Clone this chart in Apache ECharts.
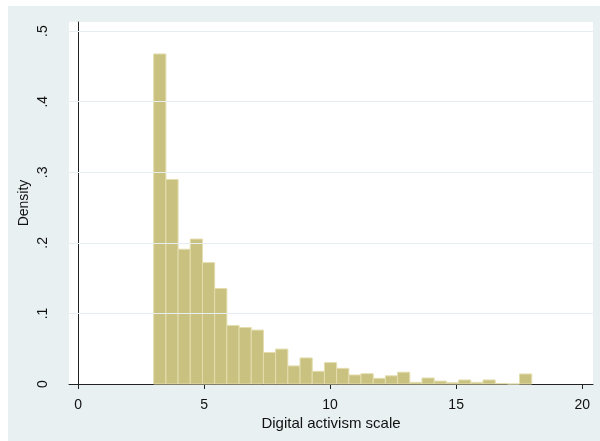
<!DOCTYPE html>
<html>
<head>
<meta charset="utf-8">
<script src="https://cdn.jsdelivr.net/npm/echarts@6/dist/echarts.min.js"></script>
<style>
  html, body { margin: 0; padding: 0; background: #ffffff; }
  #chart { width: 600px; height: 441px; }
</style>
</head>
<body>
<div id="chart"></div>
<script>
// Histogram of the digital activism scale: 31 equal-width bins spanning 3 to 18
const binStart = 3;
const binEnd = 18;
const binCount = 31;
const densities = [
  0.4677, 0.2898, 0.1910, 0.2054, 0.1720, 0.1354, 0.0830, 0.0800,
  0.0764, 0.0447, 0.0495, 0.0256, 0.0369, 0.0180, 0.0303, 0.0222,
  0.0128, 0.0146, 0.0080, 0.0116, 0.0167, 0.0023, 0.0085, 0.0041,
  0.0018, 0.0057, 0.0023, 0.0057, 0.0008, 0.0000, 0.0142
];
const xTicks = [0, 5, 10, 15, 20];
const yTicks = [0, 0.1, 0.2, 0.3, 0.4, 0.5];
const xTitle = 'Digital activism scale';
const yTitle = 'Density';

const binWidth = (binEnd - binStart) / binCount;
const bins = densities.map((d, i) => [binStart + i * binWidth, binStart + (i + 1) * binWidth, d]);

function fmtY(v) {
  if (v === 0) return '0';
  return String(Math.round(v * 10) / 10).replace(/^0/, '');
}

const FONT = 'Liberation Sans, Arial, Helvetica, sans-serif';
const chart = echarts.init(document.getElementById('chart'), null, { renderer: 'canvas' });

chart.setOption({
  animation: false,
  backgroundColor: '#ffffff',
  graphic: [{
    type: 'rect',
    z: -10,
    shape: { x: 8, y: 6, width: 592, height: 435 },
    style: { fill: '#e9f0f2' }
  }],
  grid: {
    left: 69, right: 7, top: 22, bottom: 57,
    show: true, backgroundColor: '#ffffff', borderWidth: 0
  },
  xAxis: {
    type: 'value',
    min: -0.36, max: 20.43,
    name: xTitle,
    nameLocation: 'middle',
    nameGap: 32,
    nameMoveOverlap: false,
    nameTextStyle: { fontFamily: FONT, fontSize: 15, color: '#111' },
    axisLine: { show: true, onZero: false, lineStyle: { color: '#222', width: 1 } },
    axisTick: { show: true, length: 5, customValues: xTicks, lineStyle: { color: '#222' } },
    axisLabel: { customValues: xTicks, margin: 14, fontFamily: FONT, fontSize: 14, color: '#111' },
    splitLine: { show: false }
  },
  yAxis: {
    type: 'value',
    min: 0, max: 0.513,
    name: yTitle,
    nameLocation: 'middle',
    nameRotate: 90,
    nameGap: 38,
    nameMoveOverlap: false,
    nameTextStyle: { fontFamily: FONT, fontSize: 14, color: '#111' },
    axisLine: { show: true, lineStyle: { color: '#222', width: 1 } },
    axisTick: { show: true, length: 5, customValues: yTicks, lineStyle: { color: '#222' } },
    axisLabel: {
      customValues: yTicks, rotate: 90, margin: 19,
      fontFamily: FONT, fontSize: 14, color: '#111',
      formatter: fmtY
    },
    splitLine: { show: false }
  },
  series: [
    {
      // horizontal reference lines behind the bars
      type: 'line',
      data: [],
      z: 1,
      silent: true,
      markLine: {
        silent: true,
        symbol: 'none',
        label: { show: false },
        lineStyle: { color: '#e6eef1', width: 1, type: 'solid' },
        data: yTicks.filter(v => v > 0).map(v => ({ yAxis: v }))
      }
    },
    {
      type: 'custom',
      z: 2,
      data: bins,
      encode: { x: [0, 1], y: 2 },
      renderItem: function (params, api) {
        const p0 = api.coord([api.value(0), api.value(2)]);
        const p1 = api.coord([api.value(1), 0]);
        return {
          type: 'rect',
          shape: { x: p0[0], y: p0[1], width: p1[0] - p0[0], height: p1[1] - p0[1] },
          style: { fill: '#c9c17f', stroke: '#e3ddae', lineWidth: 1 }
        };
      }
    }
  ]
});
</script>
</body>
</html>
